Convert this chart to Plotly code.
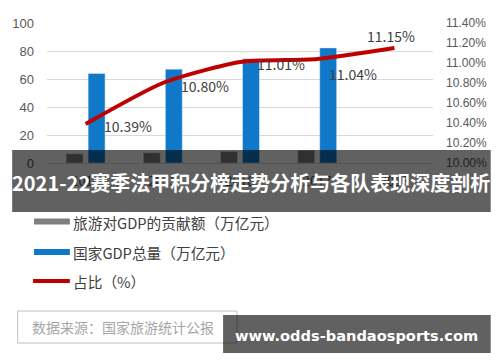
import plotly.graph_objects as go

# ---- data ----
years = ["2014", "2015", "2016", "2017", "2018"]
tourism_gdp = [6.6, 7.3, 8.2, 9.1, None]        # 旅游对GDP的贡献额（万亿元）
national_gdp = [64, 67, 74.4, 82.2, None]       # 国家GDP总量（万亿元）
share_pct = [10.39, 10.80, 11.01, 11.04, 11.15] # 占比（%）
share_labels = ["10.39%", "10.80%", "11.01%", "11.04%", "11.15%"]

left_ticks = [0, 20, 40, 60, 80, 100]
right_ticks = [10.0, 10.2, 10.4, 10.6, 10.8, 11.0, 11.2, 11.4]
right_ticktext = ["10.00%", "10.20%", "10.40%", "10.60%", "10.80%", "11.00%", "11.20%", "11.40%"]

legend_names = ["旅游对GDP的贡献额（万亿元）", "国家GDP总量（万亿元）", "占比（%）"]
source_text = "数据来源：国家旅游统计公报"
banner_text = "2021-22赛季法甲积分榜走势分析与各队表现深度剖析"
watermark_text = "www.odds-bandaosports.com"

# ---- styles / layout helpers ----
GRAY = "#7f7f7f"
BLUE = "#0f78c8"
RED = "#c00000"
FONT = "Noto Sans CJK SC"
W, H = 500, 362
ML, MR, MT, MB = 45, 67, 23, 199
PW, PH = W - ML - MR, H - MT - MB

def pxx(x):
    return (x - ML) / PW

def pxy(y):
    return (H - MB - y) / PH

# label offsets (xshift, yshift, xanchor)
LABEL_OFFSETS = [(16, -2, "left"), (16, -3, "left"), (15, -2, "left"), (10, -15, "left"), (-3, 12, "center")]

fig = go.Figure()
fig.add_trace(go.Bar(x=years, y=tourism_gdp, name=legend_names[0], marker_color=GRAY))
fig.add_trace(go.Bar(x=years, y=national_gdp, name=legend_names[1], marker_color=BLUE))
fig.add_trace(go.Scatter(x=years, y=share_pct, name=legend_names[2], yaxis="y2",
                         mode="lines", line=dict(color=RED, width=4, shape="spline", smoothing=0.6)))

annotations = []
for i, (yv, lab, (dx, dy, xa)) in enumerate(zip(share_pct, share_labels, LABEL_OFFSETS)):
    annotations.append(dict(x=i, y=yv, xref="x", yref="y2", text=lab, showarrow=False,
                            xanchor=xa, yanchor="middle", xshift=dx, yshift=dy,
                            font=dict(family=FONT, size=14, color="#404040")))

shapes = []
# custom legend
shapes.append(dict(type="rect", xref="paper", yref="paper", x0=pxx(32), x1=pxx(68),
                   y0=pxy(224.5), y1=pxy(218.5), fillcolor=GRAY, line=dict(width=0)))
shapes.append(dict(type="rect", xref="paper", yref="paper", x0=pxx(32), x1=pxx(68),
                   y0=pxy(255), y1=pxy(249), fillcolor=BLUE, line=dict(width=0)))
shapes.append(dict(type="line", xref="paper", yref="paper", x0=pxx(31), x1=pxx(68),
                   y0=pxy(281), y1=pxy(281), line=dict(color=RED, width=4)))
for name, ly in zip(legend_names, [222.5, 252, 281]):
    annotations.append(dict(x=pxx(69), y=pxy(ly), xref="paper", yref="paper", text=name,
                            showarrow=False, xanchor="left", yanchor="middle",
                            font=dict(family=FONT, size=14.7, color="#404040")))
# source box
shapes.append(dict(type="rect", xref="paper", yref="paper", x0=pxx(15.5), x1=pxx(236),
                   y0=pxy(343), y1=pxy(311), fillcolor="white", line=dict(color="#bfbfbf", width=1)))
annotations.append(dict(x=pxx(28), y=pxy(327), xref="paper", yref="paper", text=source_text,
                        showarrow=False, xanchor="left", yanchor="middle",
                        font=dict(family=FONT, size=14, color="#a6a6a6")))
# banner overlay
shapes.append(dict(type="rect", xref="paper", yref="paper", x0=pxx(10), x1=pxx(491),
                   y0=pxy(212), y1=pxy(150), fillcolor="rgba(0,0,0,0.62)",
                   line=dict(width=0), layer="above"))
annotations.append(dict(x=pxx(250), y=pxy(182), xref="paper", yref="paper", text=banner_text,
                        showarrow=False, xanchor="center", yanchor="middle",
                        font=dict(family=FONT, size=20, color="white", weight="bold")))
# watermark
shapes.append(dict(type="rect", xref="paper", yref="paper", x0=pxx(222), x1=pxx(491),
                   y0=pxy(353), y1=pxy(315), fillcolor="rgba(0,0,0,0.62)",
                   line=dict(width=0), layer="above"))
annotations.append(dict(x=pxx(356), y=pxy(335), xref="paper", yref="paper", text=watermark_text,
                        showarrow=False, xanchor="center", yanchor="middle",
                        font=dict(family="DejaVu Sans", size=14.6, color="white", weight="bold")))

fig.update_layout(
    width=W, height=H, autosize=False,
    margin=dict(l=ML, r=MR, t=MT, b=MB),
    paper_bgcolor="white", plot_bgcolor="white",
    showlegend=False,
    barmode="group", bargap=0.43, bargroupgap=0.23,
    xaxis=dict(type="category", range=[-0.5, len(years) - 0.5], showgrid=False, showline=True,
               linecolor="#d9d9d9", linewidth=1,
               tickfont=dict(family=FONT, size=13, color="#595959"), ticks="",
               ticklabelstandoff=6),
    yaxis=dict(range=[0, 100], tickvals=left_ticks, showgrid=True, gridcolor="#d9d9d9",
               gridwidth=1, zeroline=False, ticks="", ticklabelstandoff=12,
               tickfont=dict(family="Liberation Sans", size=13, color="#595959")),
    yaxis2=dict(range=[10.0, 11.4], tickvals=right_ticks, ticktext=right_ticktext,
                overlaying="y", side="right", showgrid=False, zeroline=False, ticks="",
                ticklabelstandoff=12,
                tickfont=dict(family="Liberation Sans", size=12, color="#595959")),
    annotations=annotations, shapes=shapes,
)

fig.write_html("out.html")
